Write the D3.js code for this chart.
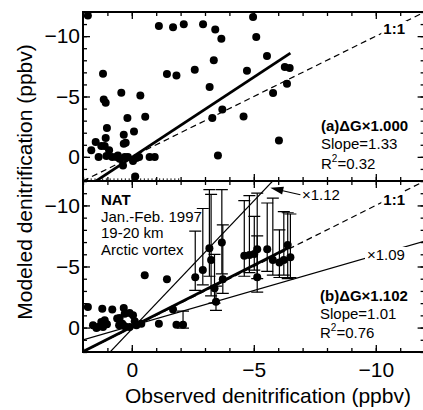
<!DOCTYPE html>
<html>
<head>
<meta charset="utf-8">
<script src="https://cdn.jsdelivr.net/npm/d3@7"></script>
<style>
body { margin: 0; background: #fff; }
svg { font-family: "Liberation Sans", Arial, Helvetica, sans-serif; }
</style>
</head>
<body>
<div id="chart"></div>
<script>
// (a) dG x 1.000 : observed vs modeled denitrification (ppbv)
var obsA = [1.8, 1.66, 1.48, 1.36, 1.25, 1.11, 1.18, 1.15, 1.07, 1.02, 1.07, 0.93, 1.04, 0.80, 0.63,
  0.57, 0.43, 0.33, 0.33, 0.25, 0.18, 0.36, 0.29, 0.16, 0.50, -0.05, -0.09, -0.14, -0.19, -0.30,
  -0.35, -0.55, -0.73, -0.94, -1.11, -1.44, -1.69, -1.83, -2.13, -2.58, -2.92, -3.19, -3.30, -3.36,
  -3.42, -3.53, -3.67, -3.71, -4.58, -4.72, -4.97, -5.10, -5.54, -5.79, -6.03, -6.27, -6.36, -6.47];
var modA = [-11.7, -0.54, -1.23, 0.02, -0.9, -0.9, -6.89, -4.76, -4.49, -2.39, -1.56, -0.54, -0.07, 0.02, 0.02,
  -0.12, -5.31, -1.83, -1.09, -1.17, -3.22, 0.71, 0.02, 0.02, 0.15, 0.35, -2.11, 1.62, 0.1, 0.02,
  -5.09, -3.33, 0.02, 0.02, -10.84, -6.86, -10.73, -6.75, -10.98, -7.22, -10.98, -5.78, -3.22, -8.0,
  -10.54, -0.12, -9.79, -3.93, -3.35, -7.14, -11.59, -9.93, -8.35, -5.29, -1.36, -7.44, -6.06, -7.36];

// (b) dG x 1.102 : with model error bars
var obsB = [1.8, 1.21, 0.8, 0.33, 1.59, 1.39, 1.25, 1.11, 1.02, 1.18, 1.45, 0.6, 0.5, 0.39, 0.29,
  0.29, 0.09, -0.05, -0.12, -0.19, 0.09, 0.52, -0.39, -0.53, -1.11, -1.44, -1.69, -1.83,
  -2.1, -2.6, -2.91, -3.18, -3.25, -3.39, -3.45, -3.69, -3.73, -4.61, -4.82, -5.02, -5.14, -5.14,
  -5.55, -5.78, -6.05, -6.23, -6.39, -6.5];
var modB = [-1.69, -1.55, -1.47, -1.61, -0.19, -0.05, -0.46, -0.6, -0.27, -0.05, 0.03, -0.74, -0.79, -0.32, -0.11,
  -1.14, -1.2, -1.0, -0.52, -0.19, -0.05, -0.19, -0.32, -4.29, -0.32, -3.96, -1.47, -0.24,
  -0.24, -4.12, -4.72, -6.5, -5.54, -3.22, -2.12, -6.96, -3.96, -5.87, -5.95, -6.03, -6.42, -4.12,
  -6.42, -5.54, -5.32, -5.54, -6.77, -5.76];
var barTopB = [null, null, null, null, null, null, null, null, null, null, null, null, null, null, null,
  null, null, null, null, null, null, null, null, null, null, null, null, null,
  -1.35, -7.9, -9.75, -11.3, -10.9, -6.0, -3.4, -11.3, -8.4, -10.4, -10.8, -9.1, -11.0, -7.5,
  -10.2, -10.6, -8.0, -9.5, -9.4, -9.3];
var barBotB = [null, null, null, null, null, null, null, null, null, null, null, null, null, null, null,
  null, null, null, null, null, null, null, null, null, null, null, null, null,
  0.05, -3.05, -3.5, -4.2, -2.6, -2.0, -1.4, -4.4, -2.8, -4.2, -4.5, -4.7, -4.0, -2.9,
  -4.6, -4.3, -4.1, -4.3, -4.0, -4.1];

// fitted / reference lines: y = k*x + b, drawn between x0 and x1
var fitA = {k: 1.33, b: 0.05, x0: 2, x1: -6.5};
var fitB = {k: 1.01, b: -0.05, x0: 2, x1: -6.5};
var lineB112 = {k: 2.1, b: 0.13, x0: 2, x1: -12};
var lineB109 = {k: 0.578, b: -0.14, x0: 2, x1: -12};
var nat = 1.85; // dotted level in panel (a)

var majorTicks = [0, -5, -10];
var minorTicks = d3.range(2, -13, -1);

var W = 423, H = 410;
var left = 83, right = 424.6;

var x = d3.scaleLinear().domain([2, -12]).range([left, right]);
var yA = d3.scaleLinear().domain([2, -12]).range([181, 12]);
var yB = d3.scaleLinear().domain([2, -12]).range([352, 181]);

var svg = d3.select("#chart").append("svg")
  .attr("width", W)
  .attr("height", H);

function fmt(d) { return d3.format("d")(d); }

function axes(y, xLabels) {
  var top = y.range()[1], bot = y.range()[0];
  var sides = [
    {f: d3.axisLeft, s: y, t: "translate(" + left + ",0)", lab: true, pad: 3},
    {f: d3.axisRight, s: y, t: "translate(" + right + ",0)", lab: false, pad: 3},
    {f: d3.axisTop, s: x, t: "translate(0," + top + ")", lab: false, pad: 3},
    {f: d3.axisBottom, s: x, t: "translate(0," + bot + ")", lab: xLabels, pad: 10}
  ];
  sides.forEach(function (a) {
    var g1 = svg.append("g").attr("transform", a.t)
      .call(a.f(a.s).tickValues(minorTicks).tickSize(-4).tickFormat(""));
    var g2 = svg.append("g").attr("transform", a.t)
      .call(a.f(a.s).tickValues(majorTicks).tickSize(-7).tickPadding(a.pad)
        .tickFormat(a.lab ? fmt : ""));
    [g1, g2].forEach(function (g) {
      g.select(".domain").remove();
      g.selectAll("line").attr("stroke", "#000").attr("stroke-width", 1.3);
      g.selectAll("text").attr("font-size", 21).attr("fill", "#000")
        .attr("font-family", "'Liberation Sans', Arial, Helvetica, sans-serif");
    });
  });
  svg.append("rect")
    .attr("x", left).attr("y", top)
    .attr("width", right - left).attr("height", bot - top)
    .attr("fill", "none").attr("stroke", "#000").attr("stroke-width", 2);
}

function clip(id, y) {
  svg.append("clipPath").attr("id", id).append("rect")
    .attr("x", left).attr("y", y.range()[1])
    .attr("width", right - left).attr("height", y.range()[0] - y.range()[1]);
  return svg.append("g").attr("clip-path", "url(#" + id + ")");
}

function drawLine(g, y, L, w, dash) {
  g.append("line")
    .attr("x1", x(L.x0)).attr("y1", y(L.k * L.x0 + L.b))
    .attr("x2", x(L.x1)).attr("y2", y(L.k * L.x1 + L.b))
    .attr("stroke", "#000").attr("stroke-width", w)
    .attr("stroke-dasharray", dash || null);
}

function label(txt, px, py, bold, anchor, bg) {
  var t = svg.append("text")
    .attr("x", px).attr("y", py)
    .attr("font-size", 15)
    .attr("font-weight", bold ? "bold" : "normal")
    .attr("text-anchor", anchor || "start")
    .text(txt);
  if (bg) {
    var b = t.node().getBBox();
    svg.insert("rect", function () { return t.node(); })
      .attr("x", b.x - 2).attr("y", b.y + 1)
      .attr("width", b.width + 4).attr("height", b.height - 2)
      .attr("fill", "#fff");
  }
  return t;
}

function rsq(val, px, py) {
  var t = svg.append("text").attr("x", px).attr("y", py).attr("font-size", 15);
  t.append("tspan").text("R");
  t.append("tspan").attr("dy", -7).attr("font-size", 10).text("2");
  t.append("tspan").attr("dy", 7).text("=" + val);
}

// ---------- panel (a)
var gA = clip("clipA", yA);
gA.append("line")
  .attr("x1", x(2)).attr("x2", x(-2))
  .attr("y1", yA(nat)).attr("y2", yA(nat))
  .attr("stroke", "#000").attr("stroke-width", 1.2)
  .attr("stroke-dasharray", "1.2,2.6");
drawLine(gA, yA, {k: 1, b: 0, x0: 2, x1: -12}, 1.2, "6,4");
drawLine(gA, yA, fitA, 2.8);
gA.selectAll(".ptA")
  .data(obsA)
  .enter().append("circle")
  .attr("class", "ptA")
  .attr("cx", function (d) { return x(d); })
  .attr("cy", function (d, i) { return yA(modA[i]); })
  .attr("r", 4);
axes(yA, false);

label("1:1", 405, 34, true, "end", true);
label("(a)\u0394G\u00d71.000", 321, 131, true);
label("Slope=1.33", 321, 149);
rsq("0.32", 321, 169);

// ---------- panel (b)
var gB = clip("clipB", yB);
drawLine(gB, yB, {k: 1, b: 0, x0: 2, x1: -12}, 1.2, "6,4");
drawLine(gB, yB, lineB112, 1.2);
drawLine(gB, yB, lineB109, 1.2);
drawLine(gB, yB, fitB, 2.8);

var bars = obsB.map(function (d, i) {
  return {o: d, top: barTopB[i], bot: barBotB[i]};
}).filter(function (d) { return d.top !== null; });

var eb = gB.selectAll(".eb").data(bars).enter().append("g").attr("class", "eb")
  .attr("stroke", "#000").attr("stroke-width", 1.2);
eb.append("line")
  .attr("x1", function (d) { return x(d.o); })
  .attr("x2", function (d) { return x(d.o); })
  .attr("y1", function (d) { return yB(d.top); })
  .attr("y2", function (d) { return yB(d.bot); });
eb.append("line")
  .attr("x1", function (d) { return x(d.o) - 6; })
  .attr("x2", function (d) { return x(d.o) + 6; })
  .attr("y1", function (d) { return yB(d.top); })
  .attr("y2", function (d) { return yB(d.top); });
eb.append("line")
  .attr("x1", function (d) { return x(d.o) - 6; })
  .attr("x2", function (d) { return x(d.o) + 6; })
  .attr("y1", function (d) { return yB(d.bot); })
  .attr("y2", function (d) { return yB(d.bot); });

gB.selectAll(".ptB")
  .data(obsB)
  .enter().append("circle")
  .attr("class", "ptB")
  .attr("cx", function (d) { return x(d); })
  .attr("cy", function (d, i) { return yB(modB[i]); })
  .attr("r", 4);
axes(yB, true);

label("1:1", 405, 205, true, "end", true);
label("\u00d71.09", 367, 260, false, "start", true);
label("\u00d71.12", 302, 200);

// arrow to the x1.12 line
var tipY = -11.45;
var tip = [x((tipY - lineB112.b) / lineB112.k) + 4, yB(tipY)];
var tail = [tip[0] + 30, tip[1] + 7];
svg.append("line")
  .attr("x1", tail[0]).attr("y1", tail[1])
  .attr("x2", tip[0] + 8).attr("y2", tip[1] + 2)
  .attr("stroke", "#000").attr("stroke-width", 1.2);
var ang = Math.atan2(tail[1] - tip[1], tail[0] - tip[0]);
var hl = 13, hw = 4;
var bx = tip[0] + hl * Math.cos(ang), by = tip[1] + hl * Math.sin(ang);
svg.append("path")
  .attr("d", "M" + tip[0] + "," + tip[1] +
    "L" + (bx - hw * Math.sin(ang)) + "," + (by + hw * Math.cos(ang)) +
    "L" + (bx + hw * Math.sin(ang)) + "," + (by - hw * Math.cos(ang)) + "Z")
  .attr("fill", "#000");

label("NAT", 101, 205, true);
label("Jan.-Feb. 1997", 101, 222);
label("19-20 km", 101, 238);
label("Arctic vortex", 101, 255);

label("(b)\u0394G\u00d71.102", 320, 301, true);
label("Slope=1.01", 320, 319);
rsq("0.76", 320, 338);

// axis titles
svg.append("text")
  .attr("x", (left + 423) / 2 + 15)
  .attr("y", 403)
  .attr("font-size", 21)
  .attr("text-anchor", "middle")
  .text("Observed denitrification (ppbv)");
svg.append("text")
  .attr("transform", "translate(32,182) rotate(-90)")
  .attr("font-size", 21)
  .attr("text-anchor", "middle")
  .text("Modeled denitrification (ppbv)");
</script>
</body>
</html>
